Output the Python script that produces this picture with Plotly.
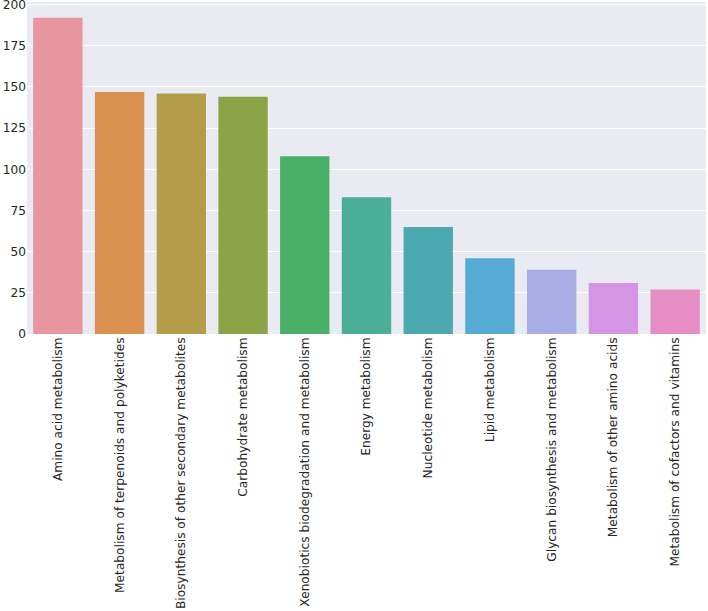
import plotly.graph_objects as go

categories = [
    "Amino acid metabolism",
    "Metabolism of terpenoids and polyketides",
    "Biosynthesis of other secondary metabolites",
    "Carbohydrate metabolism",
    "Xenobiotics biodegradation and metabolism",
    "Energy metabolism",
    "Nucleotide metabolism",
    "Lipid metabolism",
    "Glycan biosynthesis and metabolism",
    "Metabolism of other amino acids",
    "Metabolism of cofactors and vitamins",
]
counts = [192, 147, 146, 144, 108, 83, 65, 46, 39, 31, 27]
colors = ["#E8959F", "#DB904F", "#B39D48", "#8DA446", "#4AB069", "#4BAE96",
          "#4CA9AF", "#56ABD5", "#A8ADE8", "#D694E5", "#E78DC6"]
y_ticks = [0, 25, 50, 75, 100, 125, 150, 175, 200]

fig = go.Figure(go.Bar(x=categories, y=counts, marker=dict(color=colors, line=dict(width=0))))
fig.update_layout(
    width=708, height=611,
    margin=dict(l=27, r=2, t=2, b=277, autoexpand=False),
    plot_bgcolor="#EAEAF2", paper_bgcolor="white",
    bargap=0.2, showlegend=False,
    font=dict(family="DejaVu Sans", size=12.2, color="#262626"),
)
fig.update_xaxes(tickangle=-90, showgrid=False, ticks="", automargin=False,
                 range=[-0.5, 10.5], ticklabeloverflow="allow")
fig.update_yaxes(range=[0, 201.6], tickvals=y_ticks, gridcolor="white", gridwidth=1, zeroline=False,
                 ticks="", automargin=False, ticklabeloverflow="allow")
fig.write_html("out.html", config={"displayModeBar": False},
               post_script="document.body.style.margin='0';")
